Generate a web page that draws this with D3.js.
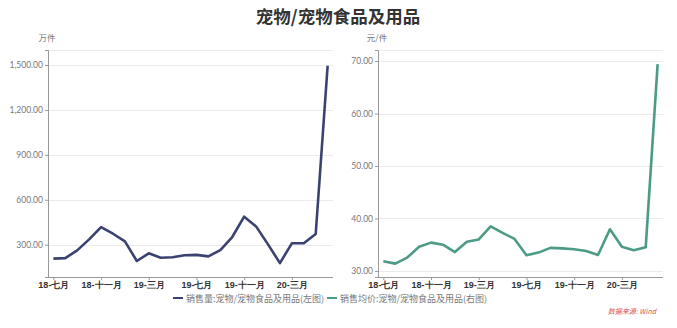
<!DOCTYPE html>
<html><head><meta charset="utf-8">
<script src="https://cdn.jsdelivr.net/npm/d3@7"></script>
<style>
html,body{margin:0;padding:0;background:#fff;}
svg{display:block;font-family:"Noto Sans CJK SC","Noto Sans",sans-serif;}
</style></head>
<body>
<svg id="c" width="677" height="328"></svg>
<script>
const months = ["18-07","18-08","18-09","18-10","18-11","18-12","19-01","19-02","19-03","19-04","19-05","19-06","19-07","19-08","19-09","19-10","19-11","19-12","20-01","20-02","20-03","20-04","20-05","20-06"];
const tickMonths = ["18-07","18-11","19-03","19-07","19-11","20-03"];
const tickLabels = ["18-七月","18-十一月","19-三月","19-七月","19-十一月","20-三月"];
const salesVolume = [207,210,262,335,417,373,322,191,242,213,216,229,232,222,264,351,487,422,302,177,309,309,371,1495];
const avgPrice = [31.85,31.4,32.55,34.6,35.4,35.0,33.6,35.55,36.0,38.5,37.25,36.1,33.0,33.5,34.4,34.3,34.15,33.8,33.05,37.95,34.6,33.95,34.5,69.4];
const leftTicks = [300,600,900,1200,1500];
const rightTicks = [30,40,50,60,70];
const title = "宠物/宠物食品及用品";
const leftUnit = "万件", rightUnit = "元/件";
const legendNames = ["销售量:宠物/宠物食品及用品(左图)","销售均价:宠物/宠物食品及用品(右图)"];
const colors = ["#3a4272","#4b9b87"];
const source = "数据来源: Wind";

const svg = d3.select("#c");
svg.append("text").attr("x",338).attr("y",23).attr("text-anchor","middle")
  .attr("font-size",17.5).attr("font-weight","bold").attr("fill","#333").text(title);

const plotTop = 50, plotBottom = 277;
function panel(x0, x1, data, domain, ticks, unit, color, unitX){
  const x = d3.scalePoint().domain(months).range([x0,x1]).padding(0.45);
  const y = d3.scaleLinear().domain(domain).range([plotBottom,plotTop]);
  const g = svg.append("g");
  g.selectAll(".grid").data(ticks.concat([domain[1]])).enter().append("line")
    .attr("x1",x0).attr("x2",x1).attr("y1",d=>Math.round(y(d))+0.5).attr("y2",d=>Math.round(y(d))+0.5)
    .attr("stroke","#ebebeb").attr("stroke-width",1);
  const ya = g.append("g").attr("transform",`translate(${x0},0)`)
    .call(d3.axisLeft(y).tickValues(ticks).tickSize(3).tickPadding(2).tickFormat(d3.format(",.2f")));
  ya.select(".domain").attr("stroke","#999");
  ya.selectAll(".tick line").attr("stroke","#999");
  ya.selectAll("text").attr("font-size",8.5).attr("fill","#777").attr("font-family","Lato, 'Noto Sans', sans-serif");
  const xa = g.append("g").attr("transform",`translate(0,${plotBottom})`)
    .call(d3.axisBottom(x).tickValues(tickMonths).tickSize(3).tickPadding(2)
      .tickFormat((d)=>tickLabels[tickMonths.indexOf(d)]));
  xa.select(".domain").attr("stroke","#999").attr("d",`M${x0},0.5H${x1}`);
  xa.selectAll(".tick line").attr("stroke","#999");
  xa.selectAll("text").attr("font-size",9).attr("font-weight","bold").attr("fill","#333");
  g.append("text").attr("x",unitX).attr("y",41).attr("text-anchor","middle")
    .attr("font-size",8.5).attr("fill","#777").text(unit);
  g.append("path").datum(data)
    .attr("d",d3.line().x((d,i)=>x(months[i])).y(d=>y(d)))
    .attr("fill","none").attr("stroke",color).attr("stroke-width",2.6).attr("stroke-linejoin","round");
}
panel(48,333,salesVolume,[84,1600],leftTicks,leftUnit,colors[0],47);
panel(378,663,avgPrice,[28.85,72.1],rightTicks,rightUnit,colors[1],377);

const leg = [{x:173,name:legendNames[0],c:colors[0]},{x:327,name:legendNames[1],c:colors[1]}];
leg.forEach(l=>{
  svg.append("line").attr("x1",l.x).attr("x2",l.x+10).attr("y1",298).attr("y2",298)
    .attr("stroke",l.c).attr("stroke-width",2);
  svg.append("text").attr("x",l.x+13).attr("y",301.5).attr("font-size",9).attr("fill","#777").text(l.name);
});
svg.append("text").attr("x",656).attr("y",314).attr("text-anchor","end")
  .attr("font-size",7).attr("font-style","italic").attr("fill","#d9534f").text(source);
</script>
</body></html>
